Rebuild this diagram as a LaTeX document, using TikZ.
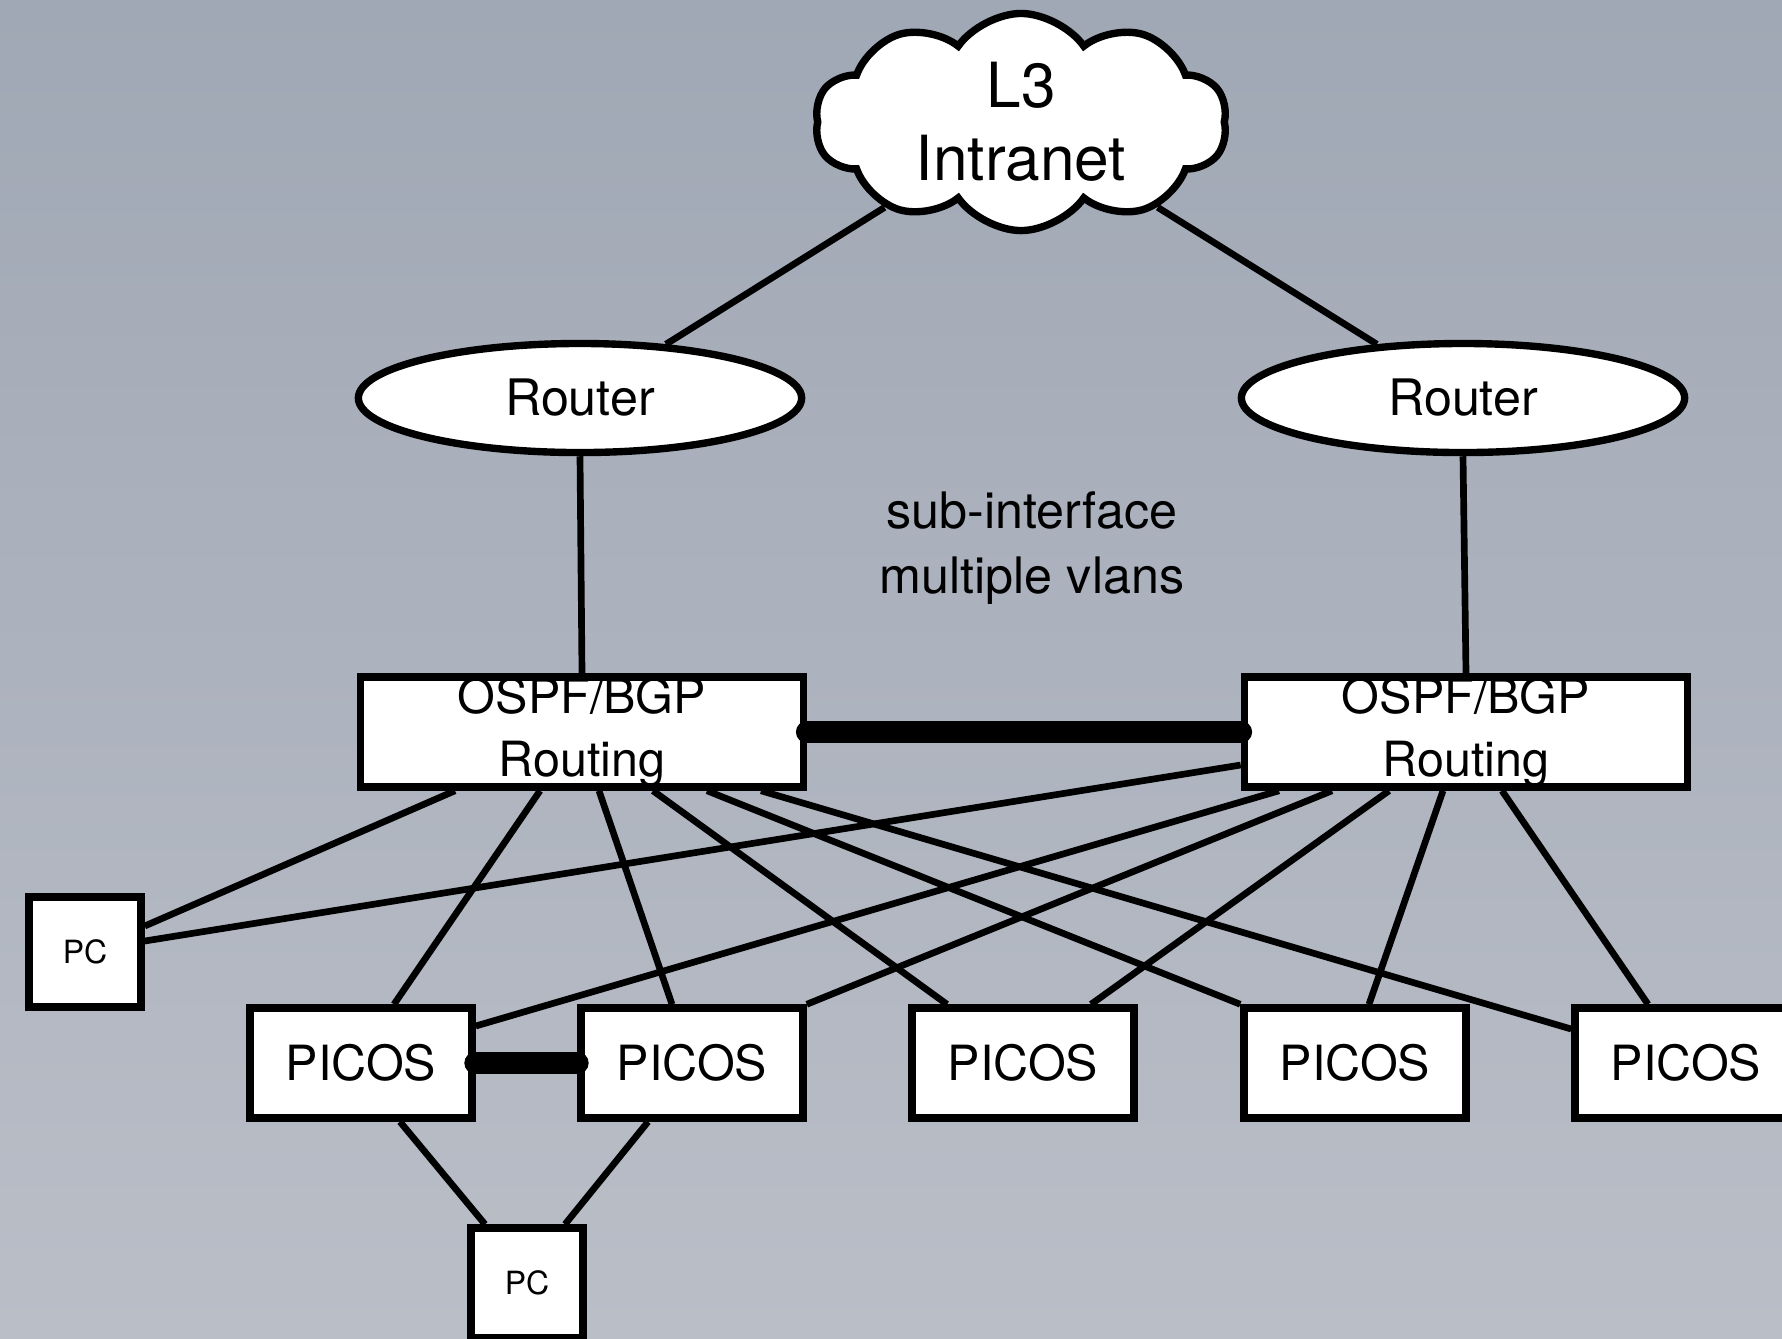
\documentclass[tikz,border=0pt]{standalone}
\usepackage{fontspec}
\setmainfont{TeX Gyre Heros}
\usepackage{tikz}
\usetikzlibrary{positioning,calc,shapes.geometric,shapes.symbols}
\definecolor{bgtop}{RGB}{160,168,181}
\definecolor{bgbot}{RGB}{186,190,199}

\begin{document}
\begin{tikzpicture}[x=0.01cm, y=-0.01cm,
    link/.style={line width=1.9pt},
    trunk/.style={line width=6.5pt, line cap=round},
    devbox/.style={draw, line width=2.1pt, fill=white, inner sep=0pt},
    swbox/.style={devbox, minimum width=2.22cm, minimum height=1.1cm,
      font=\fontsize{13.8}{17.8}\selectfont, align=center},
    corebox/.style={swbox, minimum width=4.43cm},
    pcbox/.style={devbox, minimum width=1.12cm, minimum height=1.1cm,
      font=\fontsize{9.1}{10}\selectfont},
    rtnode/.style={draw, ellipse, line width=2.1pt, fill=white, inner sep=0pt,
      minimum width=4.43cm, minimum height=1.09cm, font=\fontsize{14.3}{16}\selectfont}]
  % background
  \shade[top color=bgtop, bottom color=bgbot] (0,0) rectangle (1782,1338);
  \useasboundingbox (0,0) rectangle (1782,1338);

  % top of the tree
  \node[cloud, draw, line width=2.1pt, fill=white, cloud puffs=10, cloud puff arc=110,
    aspect=1.9, minimum width=4.12cm, minimum height=2.17cm, inner sep=0pt,
    align=center, font=\fontsize{17.7}{20.8}\selectfont] (cloud) at (1021,122) {L3\\Intranet};
  \node[rtnode] (rtL) at (580,398) {Router};
  \node[rtnode] (rtR) at (1463,398) {Router};
  \node[align=center, font=\fontsize{14.3}{18.5}\selectfont] (note) at (1032,548)
    {sub-interface\\multiple vlans};

  \node[corebox] (ospfL) at (582,732) {OSPF/BGP\\Routing};
  \node[corebox] (ospfR) at (1466,732) {OSPF/BGP\\Routing};

  % access layer
  \node[pcbox] (pcA) at (85,952) {PC};
  \node[swbox] (picos1) at (361,1063) {PICOS};
  \node[swbox] (picos2) at (692,1063) {PICOS};
  \node[swbox] (picos3) at (1023,1063) {PICOS};
  \node[swbox] (picos4) at (1355,1063) {PICOS};
  \node[swbox] (picos5) at (1686,1063) {PICOS};
  \node[pcbox] (pcB) at (527,1283) {PC};

  \draw[link] (cloud) -- (rtL);
  \draw[link] (cloud) -- (rtR);
  \draw[link] (rtL.south) -- (ospfL.north);
  \draw[link] (rtR.south) -- (ospfR.north);
  \draw[trunk] (ospfL.east) -- (ospfR.west);

  % left core fan-out
  \draw[link] ($(ospfL.south)+(-127,0)$) -- ($(pcA.east)+(0,-26)$);
  \draw[link] ($(ospfL.south)+(-42,0)$) -- ($(picos1.north)+(33,0)$);
  \draw[link] ($(ospfL.south)+(17,0)$) -- ($(picos2.north)+(-20,0)$);
  \draw[link] ($(ospfL.south)+(71,0)$) -- ($(picos3.north)+(-76,0)$);
  \draw[link] ($(ospfL.south)+(125,0)$) -- (picos4.north west);
  \draw[link] ($(ospfL.south)+(179,0)$) -- ($(picos5.west)+(0,-34)$);

  % right core fan-out
  \draw[link] ($(ospfR.west)+(0,33)$) -- ($(pcA.east)+(0,-11)$);
  \draw[link] ($(ospfR.south)+(-187,0)$) -- ($(picos1.east)+(0,-37)$);
  \draw[link] ($(ospfR.south)+(-134,0)$) -- (picos2.north east);
  \draw[link] ($(ospfR.south)+(-77,0)$) -- ($(picos3.north)+(68,0)$);
  \draw[link] ($(ospfR.south)+(-23,0)$) -- ($(picos4.north)+(14,0)$);
  \draw[link] ($(ospfR.south)+(36,0)$) -- ($(picos5.north)+(-38,0)$);

  % MLAG pair and host
  \draw[trunk] (picos1.east) -- (picos2.west);
  \draw[link] ($(picos1.south)+(39,0)$) -- ($(pcB.north)+(-42,0)$);
  \draw[link] ($(picos2.south)+(-44,0)$) -- ($(pcB.north)+(38,0)$);
\end{tikzpicture}
\end{document}
